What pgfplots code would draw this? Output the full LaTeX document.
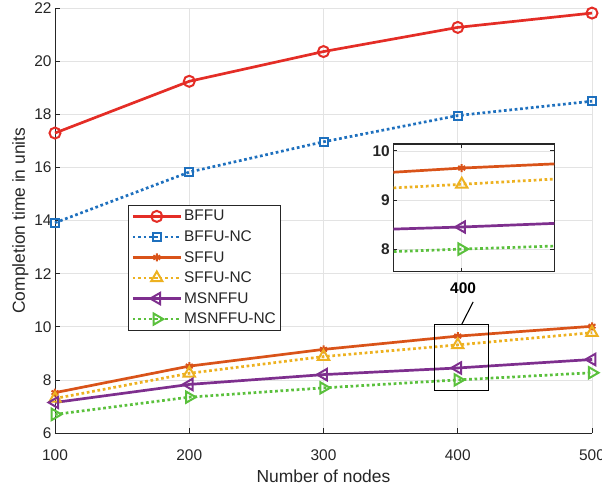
\documentclass[border=0pt]{standalone}
\usepackage{fontspec}
\setmainfont{Liberation Sans}
\usepackage{pgfplots}
\pgfplotsset{compat=1.18}
\definecolor{cR}{RGB}{228,45,38}
\definecolor{cB}{RGB}{30,112,190}
\definecolor{cO}{RGB}{217,83,25}
\definecolor{cY}{RGB}{237,177,32}
\definecolor{cP}{RGB}{126,47,142}
\definecolor{cG}{RGB}{90,192,60}
\definecolor{axc}{RGB}{38,38,38}
\pgfplotsset{
  sol/.style={line width=2.7bp},
  dot/.style={line width=2.7bp, dash pattern=on 2.7bp off 2.7bp},
  mk/.style={mark options={solid, line width=2bp}},
}
\begin{document}
\begin{tikzpicture}
\begin{axis}[
  name=main,
  scale only axis, width=537bp, height=424.7bp,
  xmin=100, xmax=500, ymin=6, ymax=22,
  xtick={100,200,300,400,500}, ytick={6,8,...,22},
  axis x line*=bottom, axis y line*=left,
  axis line style={-, axc, line width=0.9bp},
  tick align=inside, major tick length=5bp,
  tick style={axc, line width=0.8bp},
  grid=major, major grid style={gray!22, line width=0.7bp},
  /pgf/number format/assume math mode=true,
  ticklabel style={font=\fontsize{15.5}{18}\selectfont, text=axc},
  xticklabel style={yshift=-13bp},
  xlabel={Number of nodes}, ylabel={Completion time in units},
  label style={font=\fontsize{17.5}{20}\selectfont, text=axc},
  xlabel style={yshift=-3bp}, ylabel style={yshift=-1bp},
  clip=false,
  legend cell align=left,
  legend style={at={(0.136,0.537)}, anchor=north west, draw=axc, line width=0.8bp,
    font=\fontsize{15.5}{17}\selectfont, text=axc, row sep=4.3bp, inner sep=3bp},
  legend image code/.code={\draw[mark repeat=2,mark phase=2,#1] plot coordinates {(0bp,0bp) (24bp,0bp) (48bp,0bp)};},
]
\addplot[cR, sol, mark=o, mark size=5.5bp, mk] coordinates {(100,17.3)(200,19.25)(300,20.37)(400,21.28)(500,21.82)};
\addlegendentry{BFFU}
\addplot[cB, dot, mark=square, mark size=4bp, mk] coordinates {(100,13.92)(200,15.83)(300,16.97)(400,17.96)(500,18.5)};
\addlegendentry{BFFU-NC}
\addplot[cO, sol, mark=asterisk, mark size=4bp, mk] coordinates {(100,7.52)(200,8.52)(300,9.15)(400,9.65)(500,10.02)};
\addlegendentry{SFFU}
\addplot[cY, dot, mark=triangle, mark size=6.5bp, mk] coordinates {(100,7.3)(200,8.25)(300,8.88)(400,9.32)(500,9.78)};
\addlegendentry{SFFU-NC}
\addplot[cP, sol, mark=triangle, mark size=6.5bp, mark options={solid, line width=2bp, rotate=90}] coordinates {(100,7.15)(200,7.83)(300,8.2)(400,8.45)(500,8.77)};
\addlegendentry{MSNFFU}
\addplot[cG, dot, mark=triangle, mark size=6.5bp, mark options={solid, line width=2bp, rotate=-90}] coordinates {(100,6.7)(200,7.35)(300,7.7)(400,8.0)(500,8.27)};
\addlegendentry{MSNFFU-NC}
\draw[black, line width=1.1bp] (axis cs:383,7.6) rectangle (axis cs:423,10.1);
\draw[black, line width=1.1bp] (axis cs:403,10.1) -- (axis cs:411.5,10.94);
\node[font=\fontsize{15.5}{18}\selectfont\bfseries] at (axis cs:404,11.45) {400};
\end{axis}
\begin{axis}[
  at={(338.3bp,161.3bp)}, anchor=south west,
  scale only axis, width=161bp, height=127.7bp,
  xmin=383, xmax=423, ymin=7.54, ymax=10.14,
  xtick={400}, xticklabels={}, ytick={8,9,10},
  axis line style={axc, line width=1.4bp},
  tick align=inside, major tick length=4bp,
  tick style={axc, line width=0.9bp},
  grid=major, major grid style={gray!22, line width=0.7bp},
  axis background/.style={fill=white},
  /pgf/number format/assume math mode=true,
  ticklabel style={font=\fontsize{15.5}{18}\selectfont\bfseries, text=axc},
]
\addplot[cO, sol, mark=asterisk, mark size=4bp, mk] coordinates {(300,9.15)(400,9.65)(500,10.02)};
\addplot[cY, dot, mark=triangle, mark size=6.5bp, mk] coordinates {(300,8.88)(400,9.32)(500,9.78)};
\addplot[cP, sol, mark=triangle, mark size=6.5bp, mark options={solid, line width=2bp, rotate=90}] coordinates {(300,8.2)(400,8.45)(500,8.77)};
\addplot[cG, dot, mark=triangle, mark size=6.5bp, mark options={solid, line width=2bp, rotate=-90}] coordinates {(300,7.7)(400,8.0)(500,8.27)};
\end{axis}
\pgfresetboundingbox
\path (-55bp,-55bp) rectangle (547bp,433bp);
\end{tikzpicture}
\end{document}
